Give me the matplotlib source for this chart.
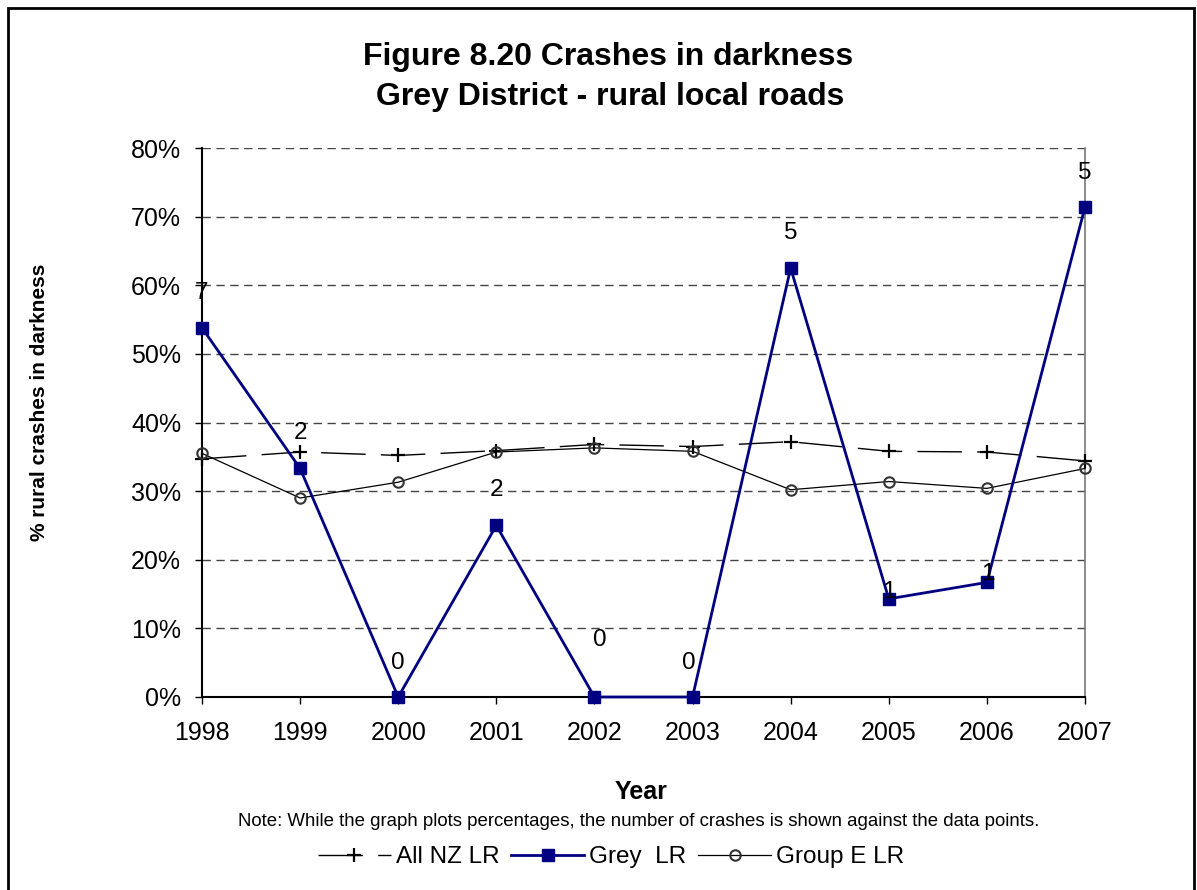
import matplotlib
matplotlib.use("Agg")
import matplotlib.pyplot as plt
from matplotlib.patches import Rectangle
from matplotlib.ticker import FuncFormatter, MultipleLocator

plt.rcParams['font.family'] = ['Liberation Sans', 'DejaVu Sans']

years = [1998, 1999, 2000, 2001, 2002, 2003, 2004, 2005, 2006, 2007]
all_nz = [34.7, 35.7, 35.2, 35.9, 36.8, 36.5, 37.2, 35.8, 35.7, 34.4]
grey = [53.8, 33.3, 0.0, 25.0, 0.0, 0.0, 62.5, 14.3, 16.7, 71.4]
group_e = [35.5, 29.0, 31.3, 35.7, 36.3, 35.8, 30.2, 31.4, 30.4, 33.3]
grey_counts = ["7", "2", "0", "2", "0", "0", "5", "1", "1", "5"]

# label offsets in pixels (dx, dy)
label_offsets = [(0, 35), (0, 35), (0, 34), (0, 35), (5, 57), (-4, 34),
                 (0, 35), (0, 7), (1, 8), (0, 34)]

W, H = 1197, 890
fig = plt.figure(figsize=(W / 100, H / 100), dpi=100)
ax = fig.add_axes([202 / W, 1 - 697 / H, (1085 - 202) / W, (697 - 148) / H])

ax.set_xlim(1998, 2007)
ax.set_ylim(0, 80)

for yv in range(10, 81, 10):
    ax.axhline(yv, color='#444444', lw=1.0, dashes=(6, 4), zorder=1)

ax.plot(years, all_nz, color='black', lw=1.0, dashes=(32, 11),
        marker='+', markersize=10, mew=1.6, label='All NZ LR', zorder=3,
        clip_on=False)
ax.plot(years, grey, color='#000080', lw=2.0, marker='s', markersize=9,
        label='Grey  LR', zorder=4, clip_on=False)
ax.plot(years, group_e, color='black', lw=0.9, marker='o', markersize=7.5,
        mfc='none', mec='#333333', mew=1.5, label='Group E LR', zorder=3,
        clip_on=False)

px = 72 / 100
for x, y, t, (dx, dy) in zip(years, grey, grey_counts, label_offsets):
    ax.annotate(t, (x, y), xytext=(dx * px, dy * px), textcoords='offset points',
                ha='center', va='center', fontsize=17.5, color='black',
                zorder=5, annotation_clip=False)

ax.xaxis.set_major_locator(MultipleLocator(1))
ax.yaxis.set_major_locator(MultipleLocator(10))
ax.yaxis.set_major_formatter(FuncFormatter(lambda v, p: f"{int(round(v))}%"))
ax.tick_params(axis='both', direction='out', length=5, width=1, labelsize=18,
               color='black')
ax.tick_params(axis='y', pad=10)
ax.tick_params(axis='x', pad=12)

ax.spines['top'].set_visible(False)
ax.spines['right'].set_color('#777777')
ax.spines['right'].set_linewidth(1.2)
ax.spines['left'].set_linewidth(1.5)
ax.spines['bottom'].set_linewidth(1.5)

fig.text(608 / W, 1 - 57 / H, 'Figure 8.20 Crashes in darkness', ha='center',
         va='center', fontsize=23, fontweight='bold')
fig.text(610 / W, 1 - 97 / H, 'Grey District - rural local roads', ha='center',
         va='center', fontsize=23, fontweight='bold')
fig.text(40 / W, 1 - 402 / H, '% rural crashes in darkness', ha='center',
         va='center', rotation=90, fontsize=15, fontweight='bold')
fig.text(641 / W, 1 - 792 / H, 'Year', ha='center', va='center', fontsize=18,
         fontweight='bold')
fig.text(639 / W, 1 - 821 / H,
         'Note: While the graph plots percentages, the number of crashes is shown against the data points.',
         ha='center', va='center', fontsize=13.4)

leg = fig.legend(loc='center', bbox_to_anchor=(611 / W, 1 - 857 / H), ncol=3,
                 frameon=False, fontsize=17.5, handlelength=3.0,
                 columnspacing=0.5, handletextpad=0.2)

fig.add_artist(Rectangle((8 / W, -0.01), (1194 - 8) / W, 1 - 8 / H + 0.01,
                         transform=fig.transFigure, fill=False, lw=2,
                         edgecolor='black'))

fig.savefig('out.png', dpi=100)
